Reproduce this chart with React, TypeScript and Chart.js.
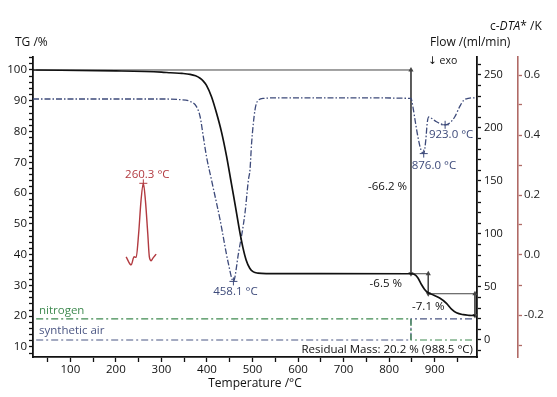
import React, { useEffect, useRef } from 'react';
import { Chart, registerables } from 'chart.js';

Chart.register(...registerables);

// ---------- data ----------
const tgTemp = [18, 200, 300, 320, 345, 363, 375, 385, 392, 399, 410, 421, 432, 443, 452, 458, 465, 472, 479, 486, 494, 502, 512, 530, 848, 855, 863, 871, 878, 886, 897, 911, 926, 937, 948, 963, 975, 988.5];
const tgMass = [100, 99.7, 99.3, 99.1, 98.9, 98.6, 98.1, 97.3, 96.4, 95.0, 91.3, 86.0, 79.8, 72.0, 64.5, 59.5, 53.5, 47.5, 42.3, 38.3, 35.6, 34.4, 34.0, 33.85, 33.8, 33.6, 32.5, 30.3, 28.7, 27.6, 26.9, 25.9, 24.2, 22.3, 21.1, 20.5, 20.3, 20.2];

const dtgTemp = [18, 300, 340, 363, 377, 385, 392, 399, 410, 429, 447, 458.1, 469, 483.5, 491, 494.5, 498, 505.5, 512.7, 525, 560, 700, 848, 852, 858, 863, 870, 876, 880.6, 883.7, 887, 893, 904, 923, 933, 944, 955, 963, 974, 988.5];
const dtgRate = [0.0, 0.0, -0.05, -0.2, -0.64, -1.48, -3.14, -4.8, -6.75, -10.1, -13.7, -15.2, -12.9, -9.5, -6.75, -5.9, -3.7, -0.9, -0.1, 0.05, 0.1, 0.1, 0.05, -0.6, -2.0, -3.1, -4.25, -4.55, -3.4, -2.0, -1.5, -1.6, -1.9, -2.15, -2.0, -1.5, -0.64, -0.14, 0.06, 0.1];

const dtaTemp = [222.5, 233.5, 240, 244.5, 250, 255.3, 260.3, 264.8, 270, 273.5, 277.5, 281, 288.5];
const dtaSignal = [-0.006, -0.033, -0.006, -0.008, 0.072, 0.183, 0.239, 0.183, 0.072, -0.006, -0.019, -0.011, 0.003];

const nitrogenTemp = [25, 848, 848, 988.5];
const nitrogenFlow = [20, 20, 0, 0];
const airTemp = [25, 848, 848, 988.5];
const airFlow = [0, 0, 20, 20];

const dtgPeakTemp = [458.1, 876.0, 923.0];
const dtgPeakRate = [-15.2, -4.55, -2.15];
const dtaPeakTemp = [260.3];
const dtaPeakSignal = [0.239];

const stepStartTemp = [25, 848, 886];
const stepTemp = [848, 886, 988.5];
const stepFrom = [100, 33.8, 27.3];
const stepTo = [33.8, 27.3, 20.2];
const residualMass = 20.2;
const residualTemp = 988.5;

const xTickValues = [50, 100, 150, 200, 250, 300, 350, 400, 450, 500, 550, 600, 650, 700, 750, 800, 850, 900, 950];
const xTickLabels = [100, 200, 300, 400, 500, 600, 700, 800, 900];
const tgTickValues = [8, 10, 12, 14, 16, 18, 20, 22, 24, 26, 28, 30, 32, 34, 36, 38, 40, 42, 44, 46, 48, 50, 52, 54, 56, 58, 60, 62, 64, 66, 68, 70, 72, 74, 76, 78, 80, 82, 84, 86, 88, 90, 92, 94, 96, 98, 100, 102, 104];
const tgTickLabels = [10, 20, 30, 40, 50, 60, 70, 80, 90, 100];
const flowTickValues = [-10, 0, 10, 20, 30, 40, 50, 60, 70, 80, 90, 100, 110, 120, 130, 140, 150, 160, 170, 180, 190, 200, 210, 220, 230, 240, 250, 260];
const flowTickLabels = [0, 50, 100, 150, 200, 250];
const dtaTickValues = [-0.3, -0.2, -0.1, 0, 0.1, 0.2, 0.3, 0.4, 0.5, 0.6];
const dtaTickLabels = [-0.2, 0, 0.2, 0.4, 0.6];

// ---------- styles ----------
const FONT = '"Open Sans", "DejaVu Sans", sans-serif';
const TG_COLOR = '#111111';
const DTG_COLOR = '#3d4a7a';
const DTA_COLOR = '#b23a40';
const DTA_AXIS = '#b06a66';
const N2_COLOR = '#3f8a50';
const AIR_COLOR = '#4b5683';
const REF_COLOR = '#444444';

const pts = (xs: number[], ys: number[]) => xs.map((x, i) => ({ x, y: ys[i] }));
const has = (arr: number[], v: number) => arr.some((a) => Math.abs(a - v) < 1e-9);

const textPlugin = {
  id: 'textPlugin',
  afterDatasetsDraw(chart: any) {
    const { ctx, scales, chartArea } = chart;
    const x = scales.x, yTG = scales.yTG, yDTG = scales.yDTG, yDTA = scales.yDTA, yFlow = scales.yFlow;
    ctx.save();
    const put = (t: string, px: number, py: number, color: string, align: CanvasTextAlign, base: CanvasTextBaseline, size = 11.5, style = '') => {
      ctx.font = `${style}${size}px ${FONT}`;
      ctx.fillStyle = color;
      ctx.textAlign = align;
      ctx.textBaseline = base;
      ctx.fillText(t, px, py);
    };
    // axis headers
    put('TG /%', 15, 43, '#111', 'left', 'middle', 12);
    put('Flow /(ml/min)', 430, 43, '#111', 'left', 'middle', 12);
    // c-DTA* /K with italic DTA
    ctx.font = `12px ${FONT}`;
    let cx = 490;
    put('c-', cx, 27, '#111', 'left', 'middle', 12);
    cx += ctx.measureText('c-').width;
    put('DTA', cx, 27, '#111', 'left', 'middle', 12, 'italic ');
    ctx.font = `italic 12px ${FONT}`;
    cx += ctx.measureText('DTA').width;
    put('* /K', cx, 27, '#111', 'left', 'middle', 12);
    put('\u2193 exo', 428, 61, '#111', 'left', 'middle', 10.5);

    // DTA peak
    dtaPeakTemp.forEach((t, i) => {
      put(`${t.toFixed(1)} \u00B0C`, x.getPixelForValue(t) + 4, yDTA.getPixelForValue(dtaPeakSignal[i]) - 3, DTA_COLOR, 'center', 'bottom', 11.5);
    });
    // DTG peaks
    const p0x = x.getPixelForValue(dtgPeakTemp[0]), p0y = yDTG.getPixelForValue(dtgPeakRate[0]);
    put(`${dtgPeakTemp[0].toFixed(1)} \u00B0C`, p0x + 2, p0y + 5, DTG_COLOR, 'center', 'top');
    const p1x = x.getPixelForValue(dtgPeakTemp[1]), p1y = yDTG.getPixelForValue(dtgPeakRate[1]);
    put(`${dtgPeakTemp[1].toFixed(1)} \u00B0C`, p1x - 12, p1y + 6, DTG_COLOR, 'left', 'top');
    const p2x = x.getPixelForValue(dtgPeakTemp[2]), p2y = yDTG.getPixelForValue(dtgPeakRate[2]);
    put(`${dtgPeakTemp[2].toFixed(1)} \u00B0C`, p2x + 6, p2y + 4, DTG_COLOR, 'center', 'top');

    // step labels
    const s0 = (stepFrom[0] - stepTo[0]).toFixed(1);
    put(`-${s0} %`, x.getPixelForValue(stepTemp[0]) - 4, (yTG.getPixelForValue(stepFrom[0]) + yTG.getPixelForValue(stepTo[0])) / 2 + 15, '#111', 'right', 'middle');
    const s1 = (stepFrom[1] - stepTo[1]).toFixed(1);
    put(`-${s1} %`, x.getPixelForValue(stepTemp[0]) - 9, (yTG.getPixelForValue(stepFrom[1]) + yTG.getPixelForValue(stepTo[1])) / 2, '#111', 'right', 'middle');
    const s2 = (stepFrom[2] - stepTo[2]).toFixed(1);
    put(`-${s2} %`, x.getPixelForValue(stepTemp[1]), (yTG.getPixelForValue(stepFrom[2]) + yTG.getPixelForValue(stepTo[2])) / 2 + 2, '#111', 'center', 'middle');
    put(`Residual Mass: ${residualMass.toFixed(1)} % (${residualTemp.toFixed(1)} \u00B0C)`, x.getPixelForValue(residualTemp) - 2, chartArea.bottom - 7, '#111', 'right', 'middle');

    // gas labels
    put('nitrogen', chartArea.left + 6, yFlow.getPixelForValue(nitrogenFlow[0]) - 8, N2_COLOR, 'left', 'middle');
    put('synthetic air', chartArea.left + 6, yFlow.getPixelForValue(airFlow[0]) - 9, AIR_COLOR, 'left', 'middle');
    ctx.restore();
  },
};

function App() {
  const ref = useRef<HTMLCanvasElement | null>(null);
  useEffect(() => {
    if (!ref.current) return;
    const dashDot = [6, 2, 1.5, 2];
    const arrowDs = (i: number) => ({
      data: [{ x: stepTemp[i], y: stepFrom[i] }, { x: stepTemp[i], y: stepTo[i] }],
      yAxisID: 'yTG',
      borderColor: REF_COLOR,
      borderWidth: 1,
      pointStyle: 'triangle',
      pointRadius: 3,
      pointRotation: (c: any) => (c.dataIndex === 0 ? 0 : 180),
      pointBackgroundColor: REF_COLOR,
      pointBorderWidth: 0,
    });
    const hDs = (i: number) => ({
      data: [{ x: stepStartTemp[i], y: stepFrom[i] }, { x: stepTemp[i], y: stepFrom[i] }],
      yAxisID: 'yTG',
      borderColor: REF_COLOR,
      borderWidth: 1,
      pointRadius: 0,
    });
    const tickCfg = (vals: number[]) => (s: any) => {
      s.ticks = vals.map((v) => ({ value: v }));
    };
    const chart = new Chart(ref.current, {
      type: 'line',
      data: {
        datasets: [
          { data: pts(tgTemp, tgMass), yAxisID: 'yTG', borderColor: TG_COLOR, borderWidth: 1.7, pointRadius: 0, cubicInterpolationMode: 'monotone' },
          { data: pts(dtaPeakTemp, dtaPeakSignal), yAxisID: 'yDTA', showLine: false, pointStyle: 'cross', pointRadius: 4, borderColor: DTA_COLOR, pointBorderWidth: 1 },
          { data: pts(dtgPeakTemp, dtgPeakRate), yAxisID: 'yDTG', showLine: false, pointStyle: 'cross', pointRadius: 4, borderColor: DTG_COLOR, pointBorderWidth: 1 },
          { data: pts(dtaTemp, dtaSignal), yAxisID: 'yDTA', borderColor: DTA_COLOR, borderWidth: 1.4, pointRadius: 0, cubicInterpolationMode: 'monotone' },
          { data: pts(dtgTemp, dtgRate), yAxisID: 'yDTG', borderColor: DTG_COLOR, borderWidth: 1.3, borderDash: dashDot, pointRadius: 0, cubicInterpolationMode: 'monotone' },
          arrowDs(0), arrowDs(1), arrowDs(2),
          hDs(0), hDs(1), hDs(2),
          { data: pts(nitrogenTemp, nitrogenFlow), yAxisID: 'yFlow', borderColor: N2_COLOR, borderWidth: 1.2, borderDash: [7, 3, 2, 3], pointRadius: 0, tension: 0 },
          { data: pts(airTemp, airFlow), yAxisID: 'yFlow', borderColor: AIR_COLOR, borderWidth: 1.2, borderDash: [7, 3, 2, 3], pointRadius: 0, tension: 0 },
        ] as any,
      },
      options: {
        animation: false,
        responsive: false,
        devicePixelRatio: 1,
        layout: { padding: { top: 57, left: 0, right: 0, bottom: 0 } },
        plugins: { legend: { display: false }, tooltip: { enabled: false } },
        elements: { line: { fill: false } },
        scales: {
          x: {
            type: 'linear',
            min: 18,
            max: 993,
            afterBuildTicks: tickCfg(xTickValues),
            afterFit: (s: any) => { s.height = 40; },
            grid: { drawOnChartArea: false, drawTicks: true, tickLength: 5, color: '#111', tickWidth: 1.3 },
            border: { display: true, color: '#111', width: 1.8 },
            ticks: {
              autoSkip: false, maxRotation: 0, padding: 1, color: '#111',
              font: { family: FONT, size: 11.5 },
              callback: (v: any) => (has(xTickLabels, v) ? String(v) : ''),
            },
            title: { display: true, text: 'Temperature /\u00B0C', color: '#111', font: { family: FONT, size: 12 }, padding: { top: 0, bottom: 6 } },
          },
          yTG: {
            type: 'linear',
            position: 'left',
            min: 6.75,
            max: 104.22,
            afterBuildTicks: tickCfg(tgTickValues),
            afterFit: (s: any) => { s.width = 33; },
            grid: { drawOnChartArea: false, drawTicks: true, tickLength: 4, color: '#111', tickWidth: 1.3 },
            border: { display: true, color: '#111', width: 1.8 },
            ticks: {
              autoSkip: false, padding: 2, color: '#111',
              font: { family: FONT, size: 11.5 },
              callback: (v: any) => (has(tgTickLabels, v) ? String(v) : ''),
            },
          },
          yFlow: {
            type: 'linear',
            position: 'right',
            weight: 0,
            min: -16.04,
            max: 266.98,
            afterBuildTicks: tickCfg(flowTickValues),
            afterFit: (s: any) => { s.width = 41; },
            grid: { drawOnChartArea: false, drawTicks: true, tickLength: 4, color: '#111', tickWidth: 1.3 },
            border: { display: true, color: '#111', width: 1.8 },
            ticks: {
              autoSkip: false, padding: 3, color: '#111',
              font: { family: FONT, size: 11 },
              callback: (v: any) => (has(flowTickLabels, v) ? String(v) : ''),
            },
          },
          yDTA: {
            type: 'linear',
            position: 'right',
            weight: 1,
            min: -0.34,
            max: 0.66,
            afterBuildTicks: tickCfg(dtaTickValues),
            afterFit: (s: any) => { s.width = 39; },
            grid: { drawOnChartArea: false, drawTicks: true, tickLength: 4, color: DTA_AXIS, tickWidth: 1.3 },
            border: { display: true, color: DTA_AXIS, width: 1.6 },
            ticks: {
              autoSkip: false, padding: 2, color: '#222',
              font: { family: FONT, size: 11.5 },
              callback: (v: any) => (has(dtaTickLabels, v) ? Number(v).toFixed(1) : ''),
            },
          },
          yDTG: {
            type: 'linear',
            display: false,
            min: -21.5,
            max: 3.5,
          },
        },
      } as any,
      plugins: [textPlugin],
    });
    return () => chart.destroy();
  }, []);
  return (
    <div style={{ position: 'fixed', left: 0, top: 0, width: 557, height: 397, background: '#fff' }}>
      <canvas ref={ref} width={557} height={397} style={{ width: 557, height: 397, display: 'block' }} />
    </div>
  );
}

export default App;
